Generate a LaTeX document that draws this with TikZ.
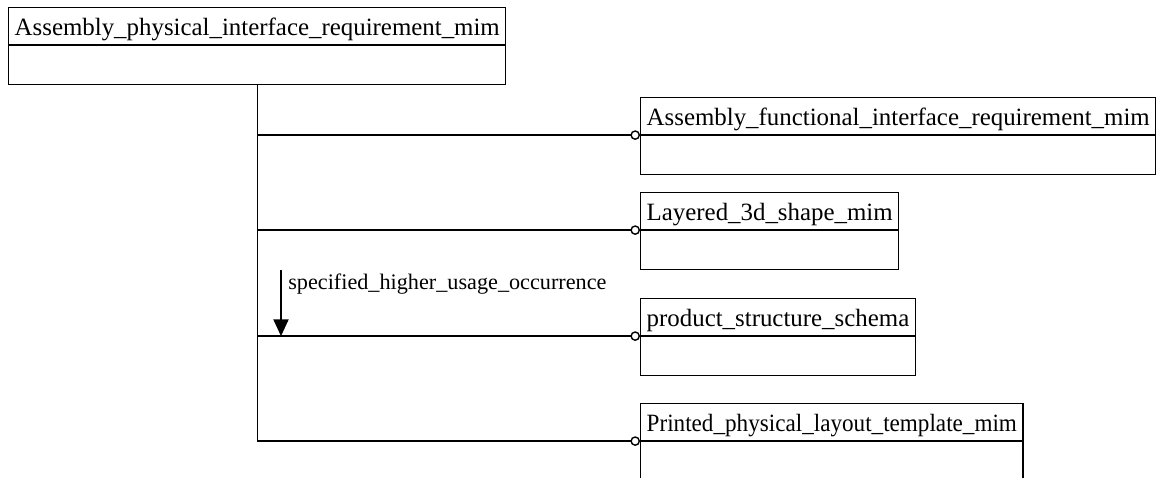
\documentclass[tikz,border=0pt]{standalone}
\usepackage{fontspec}
\usepackage{graphicx}
\setmainfont{Liberation Serif}
\usetikzlibrary{shapes.multipart,arrows.meta}
\newcommand{\headstrut}{\rule[-0.225cm]{0pt}{0.9cm}}
\newcommand{\bodystrut}{\rule{0pt}{0.95cm}}
\begin{document}
\begin{tikzpicture}
    \tikzstyle{entity} = [ shape=rectangle split, rectangle split parts=2, draw=black, line width=1pt, anchor=north west, inner xsep=0.15cm, inner ysep=0pt, font=\fontsize{17.7}{17.7}\selectfont ];
    \tikzstyle{link} = [ -{Circle[open, length=0.24cm, width=0.24cm]}, line width=1pt ];

    \useasboundingbox (0,0) rectangle (29,-11.95);

    \node (nPhysical) [entity] at (0.2,-0.175) {\headstrut Assembly\_physical\_interface\_requirement\_mim \nodepart{two} \bodystrut};
    \node (nFunctional) [entity] at (16.0,-2.425) {\headstrut Assembly\_functional\_interface\_requirement\_mim \nodepart{two} \bodystrut};
    \node (nLayered) [entity] at (16.0,-4.8) {\headstrut Layered\_3d\_shape\_mim \nodepart{two} \bodystrut};
    \node (nProduct) [entity] at (16.0,-7.45) {\headstrut product\_structure\_schema \nodepart{two} \bodystrut};
    \node (nPrinted) [entity] at (16.0,-10.075) {\headstrut \scalebox{0.93}[1]{Printed\_physical\_layout\_template\_mim} \nodepart{two} \bodystrut};

    \draw [line width=1pt] (nPhysical.south) -- (nPhysical.south |- nPrinted.text split west);
    \draw [link] (nPhysical.south |- nFunctional.text split west) -- (nFunctional.text split west);
    \draw [link] (nPhysical.south |- nLayered.text split west) -- (nLayered.text split west);
    \draw [link] (nPhysical.south |- nProduct.text split west) -- (nProduct.text split west);
    \draw [link] (nPhysical.south |- nPrinted.text split west) -- (nPrinted.text split west);

    \coordinate (cUsage) at (7.025,-6.75);
    \draw [-{Triangle[length=0.42cm, width=0.38cm]}, line width=1pt] (cUsage) -- (cUsage |- nProduct.text split west);
    \node (nUsage) [anchor=west, font=\fontsize{15.8}{15.8}\selectfont, inner sep=0pt] at (7.2,-7.1) {specified\_higher\_usage\_occurrence};
\end{tikzpicture}
\end{document}
